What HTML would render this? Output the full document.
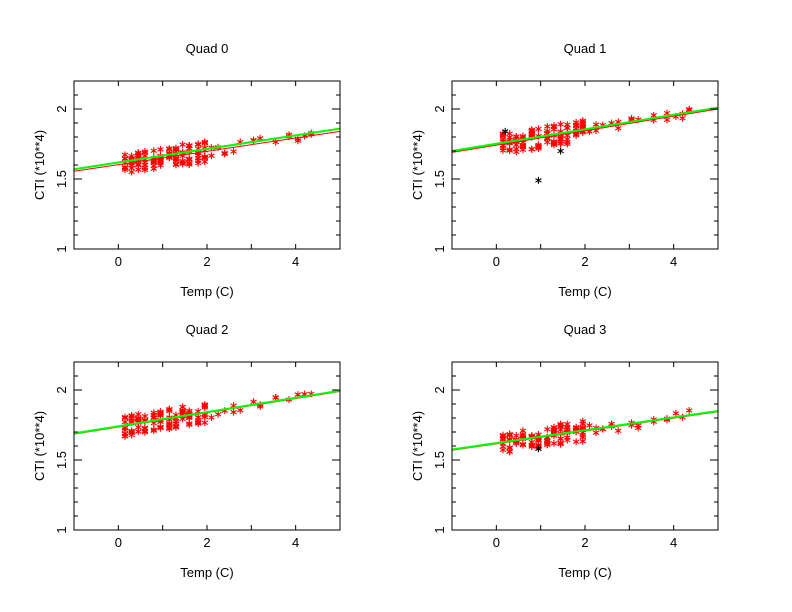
<!DOCTYPE html>
<html><head><meta charset="utf-8"><style>
html,body{margin:0;padding:0;background:#fff;}
svg{display:block;}
text{font-family:"Liberation Sans",sans-serif;font-size:13px;fill:#000;}
</style></head><body>
<svg id="s" width="792" height="612" xmlns="http://www.w3.org/2000/svg"></svg>
<script>
var S=document.getElementById('s'),h='';
var seed=7;function rnd(){seed=(seed*16807)%2147483647;return seed/2147483647;}
function star(cx,cy,c){return '<path d="M'+cx+' '+(cy-3.5)+'V'+(cy+3.5)+'M'+(cx-3)+' '+(cy-1.8)+'L'+(cx+3)+' '+(cy+1.8)+'M'+(cx-3)+' '+(cy+1.8)+'L'+(cx+3)+' '+(cy-1.8)+'" stroke="'+c+'" stroke-width="1.1" fill="none"/>';}
var panels=[
 {t:'Quad 0',ox:0,oy:0,g:[1.57,1.86],r:[1.555,1.84],blk:[]},
 {t:'Quad 1',ox:378,oy:0,g:[1.70,2.01],r:[1.69,2.0],blk:[[0.2,1.84],[0.95,1.49],[1.45,1.70]]},
 {t:'Quad 2',ox:0,oy:281,g:[1.69,1.995],r:[1.685,1.99],blk:[]},
 {t:'Quad 3',ox:378,oy:281,g:[1.575,1.85],r:[1.57,1.845],blk:[[0.95,1.58]]}];
var xs=[0.15,0.3,0.45,0.6,0.8,0.95,1.15,1.3,1.45,1.6,1.8,1.95,2.1,2.25,2.4,2.6,2.75,3.05,3.2,3.55,3.85,4.05,4.2,4.35];
panels.forEach(function(p){
 var L=74+p.ox,R=340+p.ox,T=81+p.oy,B=249+p.oy;
 function X(v){return L+(v+1)*(R-L)/6;}
 function Y(v){return B-(v-1)*140;}
 xs.forEach(function(x,i){
  var n=i<12?Math.round(7+rnd()*5):(rnd()<0.6?2:1);
  var base=p.r[0]+(p.r[1]-p.r[0])*(x+1)/6;
  for(var k=0;k<n;k++){
   var y=base+(rnd()-0.5)*(i<12?0.15:0.08);
   h+=star(X(x),Y(y),'#f00');
  }
 });
 p.blk.forEach(function(b){h+=star(X(b[0]),Y(b[1]),'#000');});
 h+='<line x1="'+L+'" y1="'+Y(p.r[0])+'" x2="'+R+'" y2="'+Y(p.r[1])+'" stroke="#f00" stroke-width="1"/>';
 h+='<line x1="'+L+'" y1="'+Y(p.g[0])+'" x2="'+R+'" y2="'+Y(p.g[1])+'" stroke="#0f0" stroke-width="2"/>';
 h+='<rect x="'+L+'" y="'+T+'" width="'+(R-L)+'" height="'+(B-T)+'" fill="none" stroke="#000" stroke-width="1"/>';
 for(var v=0;v<=4;v++){var x=X(v);h+='<line x1="'+x+'" y1="'+B+'" x2="'+x+'" y2="'+(B-5)+'" stroke="#000"/><line x1="'+x+'" y1="'+T+'" x2="'+x+'" y2="'+(T+5)+'" stroke="#000"/>';}
 for(var j=0;j<=12;j++){var y=Y(1+j*0.1),len=(j%5==0)?8:4;
  h+='<line x1="'+L+'" y1="'+y+'" x2="'+(L+len)+'" y2="'+y+'" stroke="#000"/><line x1="'+R+'" y1="'+y+'" x2="'+(R-len)+'" y2="'+y+'" stroke="#000"/>';}
 [0,2,4].forEach(function(v){h+='<text x="'+X(v)+'" y="'+(B+17)+'" text-anchor="middle">'+v+'</text>';});
 [[1,'1'],[1.5,'1.5'],[2,'2']].forEach(function(a){var y=Y(a[0]);h+='<text transform="translate('+(L-8)+','+y+') rotate(-90)" text-anchor="middle">'+a[1]+'</text>';});
 h+='<text x="'+((L+R)/2)+'" y="'+(53+p.oy)+'" text-anchor="middle">'+p.t+'</text>';
 h+='<text x="'+((L+R)/2)+'" y="'+(296+p.oy)+'" text-anchor="middle">Temp (C)</text>';
 h+='<text transform="translate('+(L-30)+','+(165+p.oy)+') rotate(-90)" text-anchor="middle">CTI (*10**4)</text>';
});
S.innerHTML=h;
</script>
</body></html>
